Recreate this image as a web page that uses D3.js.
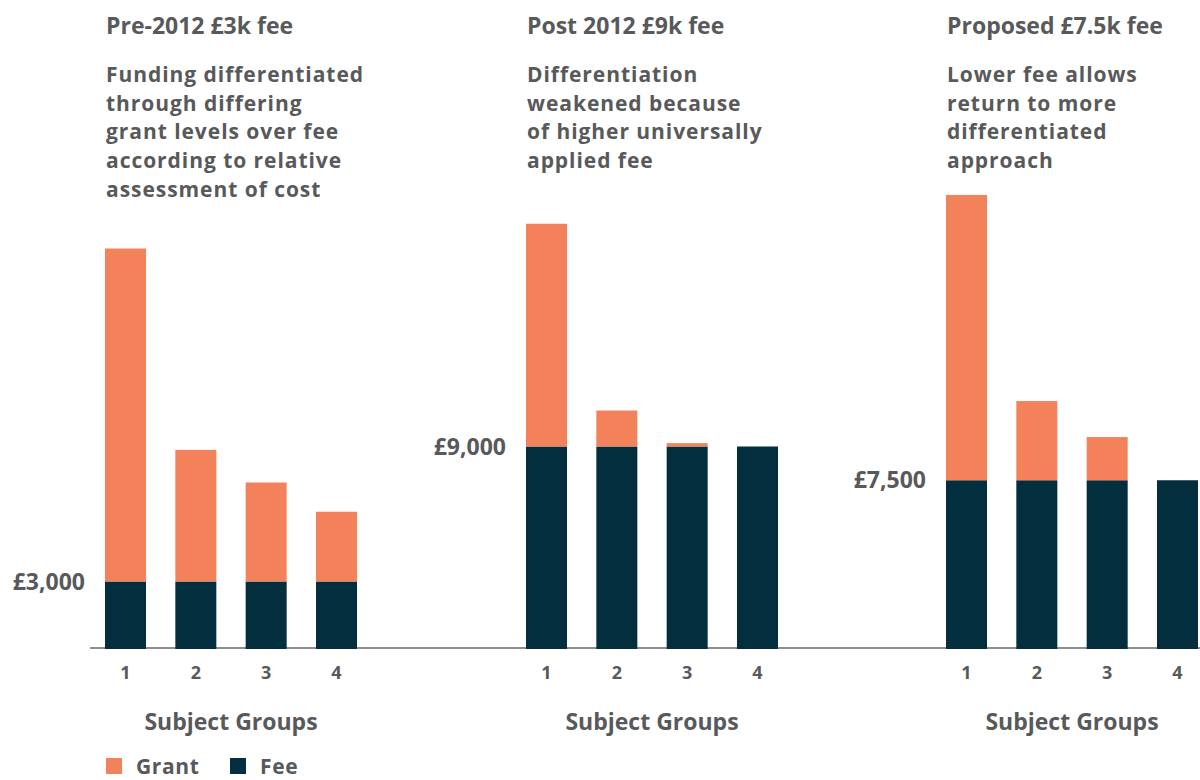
<!DOCTYPE html>
<html>
<head>
<meta charset="utf-8">
<script src="https://cdn.jsdelivr.net/npm/d3@7"></script>
<style>
  body { margin: 0; background: #fff; }
  #container { width: 1200px; height: 780px; overflow: hidden; }
  text { font-family: "Open Sans", Lato, sans-serif; font-weight: bold; fill: #58595b; }
</style>
</head>
<body>
<div id="container"></div>
<script>
// chart values
var groups = ["1", "2", "3", "4"];
var panelTitles = ["Pre-2012 £3k fee", "Post 2012 £9k fee", "Proposed £7.5k fee"];
var panelNotes = [
  ["Funding differentiated", "through differing", "grant levels over fee", "according to relative", "assessment of cost"],
  ["Differentiation", "weakened because", "of higher universally", "applied fee"],
  ["Lower fee allows", "return to more", "differentiated", "approach"]
];
var feeValues = [3000, 9000, 7500];
var feeLabels = ["£3,000", "£9,000", "£7,500"];
var grantValues = [
  [14800, 5850, 4400, 3100],
  [9900, 1600, 150, 0],
  [12680, 3520, 1920, 0]
];
var seriesNames = ["Grant", "Fee"];
var xLabel = "Subject Groups";

var w = 1200;
var h = 780;
var base = 649;
var panelX = [105, 526, 946];
var grantColor = "#f3825a";
var feeColor = "#022e3e";

var svg = d3
  .select("#container")
  .append("svg")
  .attr("width", w)
  .attr("height", h);

var yScale = d3.scaleLinear().domain([0, 10000]).range([base, base - 225]);

var xScale = d3
  .scaleBand()
  .domain(groups)
  .range([0, 252])
  .paddingInner(0.417)
  .paddingOuter(0);

// baseline runs under all three panels
svg
  .append("line")
  .attr("x1", 90)
  .attr("x2", w)
  .attr("y1", 648)
  .attr("y2", 648)
  .attr("stroke", "#8e8e8e")
  .attr("stroke-width", 2);

panelTitles.forEach(function (title, p) {
  var g = svg.append("g").attr("transform", "translate(" + panelX[p] + ",0)");

  g.append("text")
    .attr("x", 1)
    .attr("y", 34)
    .style("font-size", "23px")
    .text(title);

  g.selectAll(".note")
    .data(panelNotes[p])
    .enter()
    .append("text")
    .attr("class", "note")
    .attr("x", 1)
    .attr("y", (d, i) => 82 + i * 28.7)
    .style("font-size", "21px")
    .style("letter-spacing", "0.95px")
    .text((d) => d);

  var rows = groups.map((d, i) => ({
    group: d,
    fee: feeValues[p],
    grant: grantValues[p][i]
  }));

  // fee bars
  g.selectAll(".fee")
    .data(rows)
    .enter()
    .append("rect")
    .attr("class", "fee")
    .attr("x", (d) => xScale(d.group))
    .attr("y", (d) => yScale(d.fee))
    .attr("width", xScale.bandwidth())
    .attr("height", (d) => yScale(0) - yScale(d.fee))
    .attr("fill", feeColor);

  // grant stacked on top
  g.selectAll(".grant")
    .data(rows.filter((d) => d.grant > 0))
    .enter()
    .append("rect")
    .attr("class", "grant")
    .attr("x", (d) => xScale(d.group))
    .attr("y", (d) => yScale(d.fee + d.grant))
    .attr("width", xScale.bandwidth())
    .attr("height", (d) => yScale(d.fee) - yScale(d.fee + d.grant))
    .attr("fill", grantColor);

  // fee level label
  g.append("text")
    .attr("x", -20)
    .attr("y", yScale(feeValues[p]) + 8)
    .attr("text-anchor", "end")
    .style("font-size", "23px")
    .text(feeLabels[p]);

  // group ticks
  g.selectAll(".tick-label")
    .data(groups)
    .enter()
    .append("text")
    .attr("class", "tick-label")
    .attr("x", (d) => xScale(d) + xScale.bandwidth() / 2)
    .attr("y", 679)
    .attr("text-anchor", "middle")
    .style("font-size", "18px")
    .text((d) => d);

  g.append("text")
    .attr("x", 126)
    .attr("y", 730)
    .attr("text-anchor", "middle")
    .style("font-size", "23px")
    .text(xLabel);
});

// legend
var legend = svg.append("g").attr("transform", "translate(106,758)");
var legendX = [0, 124];
seriesNames.forEach(function (name, i) {
  legend
    .append("rect")
    .attr("x", legendX[i])
    .attr("y", 0)
    .attr("width", 16)
    .attr("height", 16)
    .attr("fill", i === 0 ? grantColor : feeColor);
  legend
    .append("text")
    .attr("x", legendX[i] + 30)
    .attr("y", 16)
    .style("font-size", "21px")
    .style("letter-spacing", "0.6px")
    .text(name);
});
</script>
</body>
</html>
